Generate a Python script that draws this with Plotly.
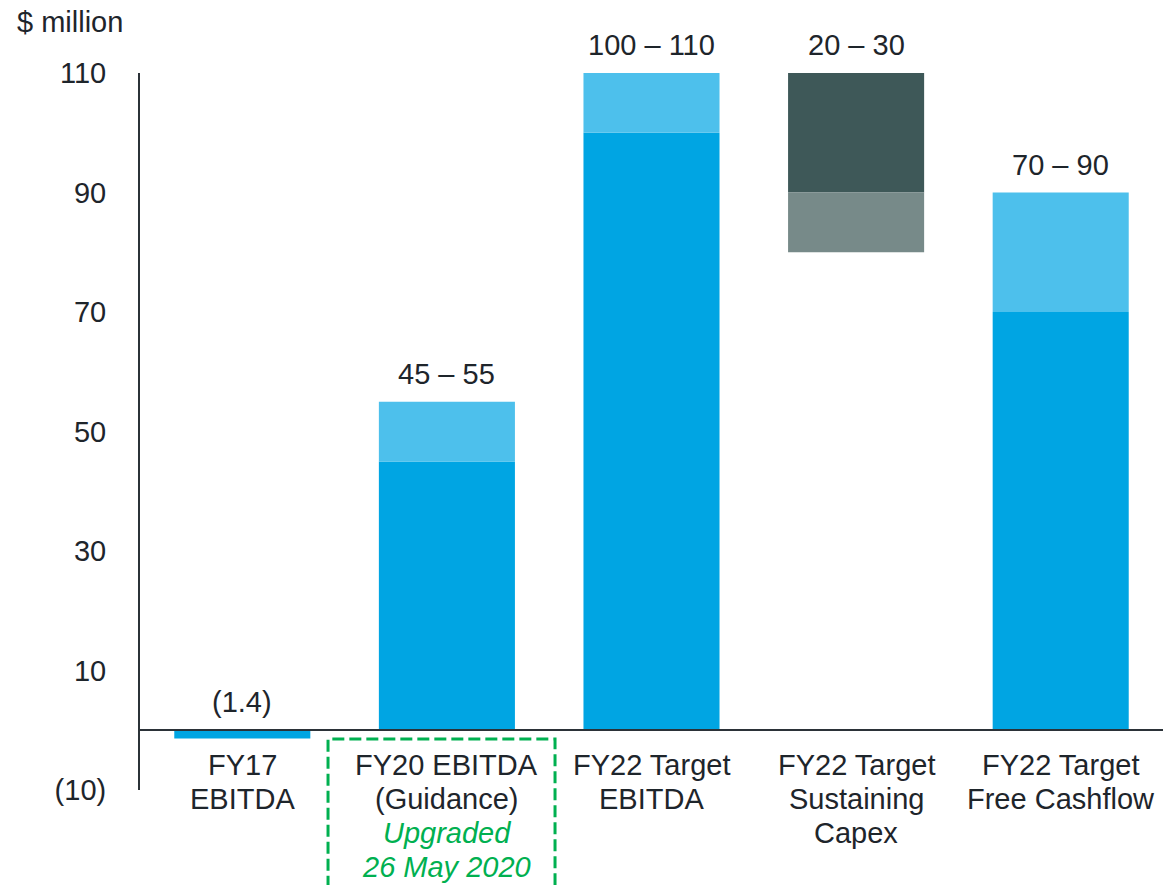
import plotly.graph_objects as go

categories = [
    "FY17<br>EBITDA",
    "FY20 EBITDA<br>(Guidance)<br><i>Upgraded</i><br><i>26 May 2020</i>",
    "FY22 Target<br>EBITDA",
    "FY22 Target<br>Sustaining<br>Capex",
    "FY22 Target<br>Free Cashflow",
]
main_base = [0, 0, 0, 90, 0]
main_vals = [-1.4, 45, 100, 20, 70]
range_base = [None, 45, 100, 80, 70]
range_vals = [None, 10, 10, 10, 20]
label_top = [0, 55, 110, 110, 90]
label_text = ["(1.4)", "45 – 55", "100 – 110", "20 – 30", "70 – 90"]
tick_vals = [110, 90, 70, 50, 30, 10, -10]
tick_text = ["110", "90", "70", "50", "30", "10", "(10)"]

BLUE = "#00A5E3"
LIGHT = "#4DC0EC"
DARK = "#3E5858"
GREY = "#778A89"
GREEN = "#00B050"
TXT = "#1E252B"
FONT = "Liberation Sans, Arial, sans-serif"
FS = 29

fig = go.Figure()
fig.add_trace(go.Bar(
    x=categories, y=main_vals, base=main_base,
    marker=dict(color=[BLUE, BLUE, BLUE, DARK, BLUE], line=dict(width=0)),
    hoverinfo="skip", showlegend=False,
))
fig.add_trace(go.Bar(
    x=categories, y=range_vals, base=range_base,
    marker=dict(color=[LIGHT, LIGHT, LIGHT, GREY, LIGHT], line=dict(width=0)),
    hoverinfo="skip", showlegend=False,
))

# value labels above bars
for c, t, s in zip(categories, label_top, label_text):
    fig.add_annotation(x=c, y=t, text=s, showarrow=False, yanchor="bottom",
                       yshift=10, font=dict(size=FS, color=TXT, family=FONT))

# category labels below the zero line (one annotation per line for tight spacing)
for c in categories:
    for i, line in enumerate(c.split("<br>")):
        col = GREEN if line.startswith("<i>") else TXT
        fig.add_annotation(x=c, y=0, text=line, showarrow=False, yanchor="middle",
                           yshift=-(35 + 34 * i), font=dict(size=FS, color=col, family=FONT))

fig.add_annotation(xref="paper", yref="paper", x=-0.1222, y=1.071, text="$ million",
                   showarrow=False, xanchor="left", yanchor="middle",
                   font=dict(size=FS, color=TXT, family=FONT))

# green dashed box around FY20 label (open at bottom)
x0, x1, y0, y1 = 0.1838, 0.4057, 0.0711, -0.16
fig.add_shape(type="path", xref="paper", yref="paper",
              path=f"M {x0},{y1} L {x0},{y0} L {x1},{y0} L {x1},{y1}",
              line=dict(color=GREEN, width=3, dash="12px,5px"))

fig.update_layout(
    width=1163, height=885,
    margin=dict(l=140, r=0, t=73, b=95),
    paper_bgcolor="white", plot_bgcolor="white",
    barmode="overlay", bargap=0.335,
    font=dict(family=FONT, size=FS, color=TXT),
    xaxis=dict(
        anchor="free", position=60 / 717, automargin=False,
        showline=True, linecolor="#2B3238", linewidth=1.5,
        showgrid=False, zeroline=False, ticks="", showticklabels=False,
    ),
    yaxis=dict(
        range=[-10, 110], tickvals=tick_vals, ticktext=tick_text, automargin=False,
        showline=True, linecolor="#2B3238", linewidth=2,
        showgrid=False, zeroline=False, ticks="",
        ticklabelstandoff=26,
        tickfont=dict(size=FS, color=TXT, family=FONT),
    ),
)

fig.write_html("out.html")
